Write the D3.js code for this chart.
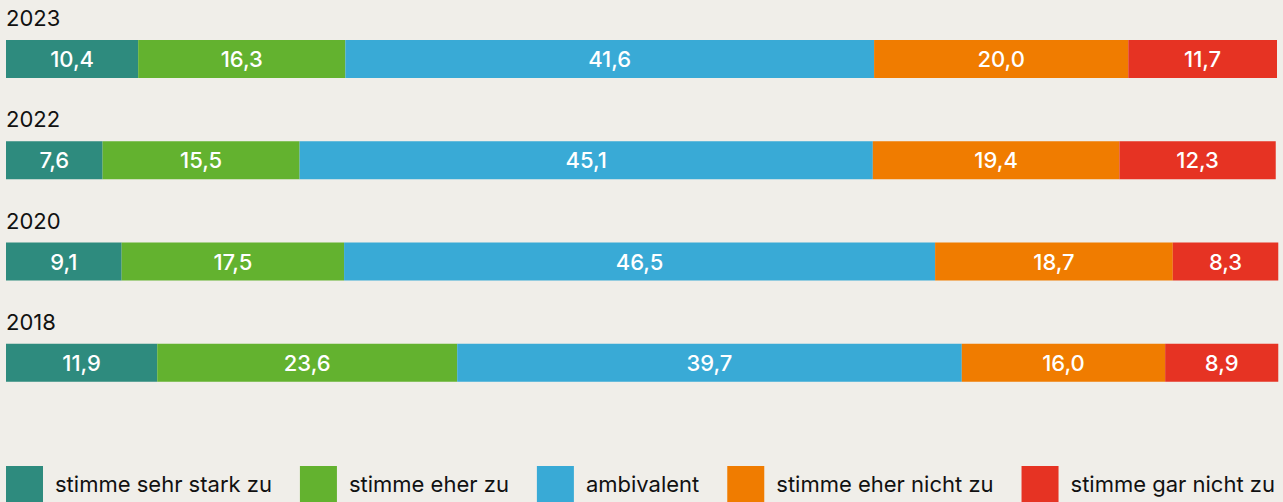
<!DOCTYPE html>
<html lang="de">
  <head>
    <meta charset="utf-8" />
    <title>Zustimmung nach Jahr</title>
    <script src="https://cdnjs.cloudflare.com/ajax/libs/d3/7.8.5/d3.min.js"></script>
    <style>
      body {
        margin: 0;
        background-color: #f0eee9;
        font-family: "Inter", "Roboto", sans-serif;
      }
      .year {
        font-size: 22px;
        fill: #111;
      }
      .val {
        font-size: 22px;
        font-weight: 500;
        fill: #fff;
      }
      .legend-label {
        font-size: 22px;
        fill: #111;
      }
    </style>
  </head>
  <body>
    <div id="chart"></div>
    <script>
      const years = ["2023", "2022", "2020", "2018"];
      const categories = [
        "stimme sehr stark zu",
        "stimme eher zu",
        "ambivalent",
        "stimme eher nicht zu",
        "stimme gar nicht zu",
      ];
      const colors = ["#2e8b7e", "#63b22f", "#39aad6", "#f07c00", "#e63323"];
      const values = [
        [10.4, 16.3, 41.6, 20.0, 11.7],
        [7.6, 15.5, 45.1, 19.4, 12.3],
        [9.1, 17.5, 46.5, 18.7, 8.3],
        [11.9, 23.6, 39.7, 16.0, 8.9],
      ];

      const width = 1283;
      const height = 502;

      const svg = d3
        .select("#chart")
        .append("svg")
        .attr("width", width)
        .attr("height", height);

      const x = d3.scaleLinear().domain([0, 100]).range([6, 1277]);
      const y = d3.scaleBand().domain(years).range([40, 445]).padding(0);
      const barH = 38;
      const fmt = (v) => v.toFixed(1).replace(".", ",");

      const rows = svg
        .selectAll(".row")
        .data(years)
        .enter()
        .append("g")
        .attr("class", "row")
        .attr("transform", (d) => `translate(0,${y(d)})`);

      rows
        .append("text")
        .attr("class", "year")
        .attr("x", 6)
        .attr("y", -14)
        .text((d) => d);

      rows.each(function (yr, i) {
        const stack = d3.cumsum(values[i]);
        const segs = values[i].map((v, j) => ({
          v,
          x0: stack[j] - v,
          x1: stack[j],
          c: colors[j],
        }));
        const g = d3.select(this);
        g.selectAll("rect")
          .data(segs)
          .enter()
          .append("rect")
          .attr("x", (d) => x(d.x0))
          .attr("width", (d) => x(d.x1) - x(d.x0))
          .attr("height", barH)
          .attr("fill", (d) => d.c);
        g.selectAll(".val")
          .data(segs)
          .enter()
          .append("text")
          .attr("class", "val")
          .attr("x", (d) => (x(d.x0) + x(d.x1)) / 2)
          .attr("y", 27)
          .attr("text-anchor", "middle")
          .text((d) => fmt(d.v));
      });

      // legend, spread like space-between
      const sq = 37;
      const legend = svg.append("g").attr("transform", "translate(0,466)");
      const items = legend
        .selectAll(".item")
        .data(categories)
        .enter()
        .append("g")
        .attr("class", "item");
      items
        .append("rect")
        .attr("width", sq)
        .attr("height", sq)
        .attr("fill", (d, i) => colors[i]);
      items
        .append("text")
        .attr("class", "legend-label")
        .attr("x", sq + 12)
        .attr("y", 26)
        .text((d) => d);

      const widths = [];
      items.each(function () {
        widths.push(this.getBBox().width);
      });
      const gap = (1275 - 6 - d3.sum(widths)) / (widths.length - 1);
      let pos = 6;
      items.attr("transform", (d, i) => {
        const t = `translate(${pos},0)`;
        pos += widths[i] + gap;
        return t;
      });
    </script>
  </body>
</html>
